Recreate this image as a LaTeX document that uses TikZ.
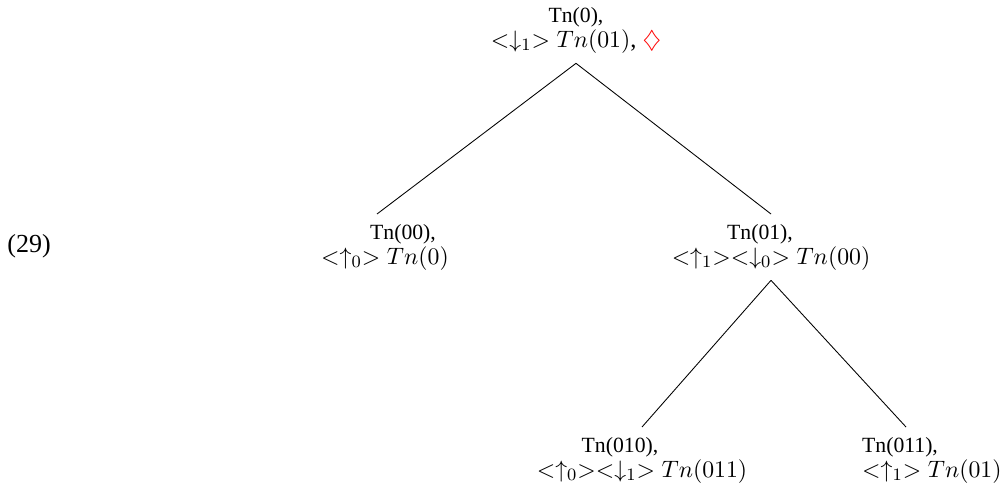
\documentclass[tikz,border=0pt]{standalone}
\usepackage{amsmath,amssymb}
\usepackage[no-math]{fontspec}
\setmainfont{Liberation Serif}
\usepackage{xcolor}
\usepackage{tikz}
\usetikzlibrary{calc}
\definecolor{cpunt}{HTML}{FF0000}
\newcommand{\tnlab}[1]{{\fontsize{10}{11.5}\selectfont #1}}

\begin{document}
\begin{tikzpicture}[x=0.461pt,y=-0.461pt,
  tnode/.style={inner sep=4.5pt,align=center,font=\fontsize{11.3}{11.5}\selectfont}]
  \useasboundingbox (0,0) rectangle (1004,483);
  \node[font=\fontsize{12}{14}\selectfont,anchor=base west,inner sep=0pt] (num) at (7,252) {(29)};
  \node[tnode,anchor=north] (t0) at (576,-3) {\tnlab{Tn(0),}\\$<\downarrow_1> Tn(01)$, $\color{cpunt}\diamondsuit$};
  \node[tnode,anchor=north] (t00) at (385,214) {\hspace*{16.6pt}\tnlab{Tn(00),}\\$<\uparrow_0> Tn(0)$};
  \node[tnode,anchor=north] (t01) at (771,214) {\tnlab{Tn(01),}\hspace*{10.1pt}\\$<\uparrow_1><\downarrow_0> Tn(00)$};
  \node[tnode,anchor=north] (t010) at (642,427) {\tnlab{Tn(010),}\hspace*{20.3pt}\\$<\uparrow_0><\downarrow_1> Tn(011)$};
  \node[tnode,align=left,anchor=north west] (t011) at (852,427) {\tnlab{Tn(011),}\\$<\uparrow_1> Tn(01)$};
  \draw (t0.south) -- ($(t00.north)+(-8,0)$);
  \draw (t0.south) -- (t01.north);
  \draw (t01.south) -- (t010.north);
  \draw (t01.south) -- ($(t011.north west)+(54,0)$);
\end{tikzpicture}
\end{document}
